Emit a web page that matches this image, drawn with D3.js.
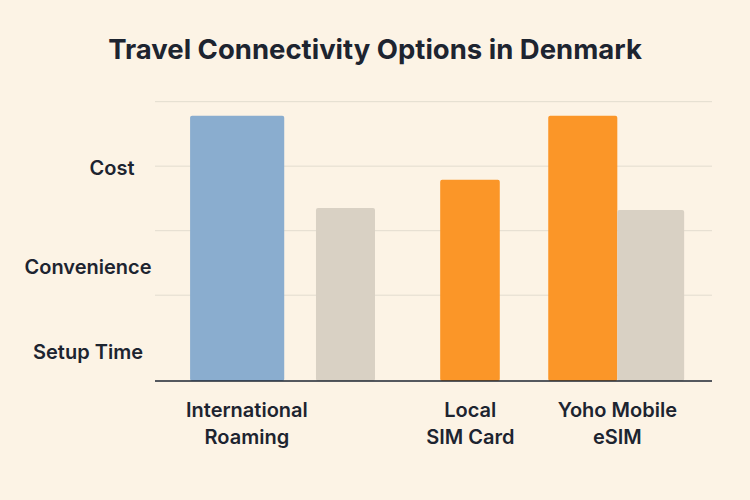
<!DOCTYPE html>
<html><head><meta charset="utf-8">
<script src="https://cdn.jsdelivr.net/npm/d3@7"></script>
<style>body{margin:0;background:#fcf3e5;font-family:Inter,"Noto Sans",sans-serif}</style>
</head><body><svg width="750" height="500"></svg>
<script>
// Data
const groups = ['International Roaming', 'Local SIM Card', 'Yoho Mobile eSIM'];
const groupLines = [['International', 'Roaming'], ['Local', 'SIM Card'], ['Yoho Mobile', 'eSIM']];
const groupCenters = [1.65, 5.66, 8.3];
const barStart = [0.63, 2.89, 5.12, 7.06, 8.3];
const barEnd = [2.32, 3.95, 6.19, 8.3, 9.5];
const barValue = [4.11, 2.68, 3.12, 4.11, 2.65];
const barColor = ['#8aadcf', '#d9d1c4', '#fb9628', '#fb9628', '#d9d1c4'];
const yLabels = ['Cost', 'Convenience', 'Setup Time'];
const yLabelPos = [3.3, 1.77, 0.45];
const gridTicks = [1.33, 2.33, 3.33, 4.33];

const svg = d3.select('svg');
const x = d3.scaleLinear().domain([0, 10]).range([155, 712]);
const y = d3.scaleLinear().domain([0, 4.34]).range([381, 101]);

svg.append('text').attr('x', 375).attr('y', 59).attr('text-anchor', 'middle')
    .attr('font-size', 27.5).attr('font-weight', 700).attr('fill', '#1d2430')
    .text('Travel Connectivity Options in Denmark');

svg.selectAll('.grid').data(gridTicks).join('line')
    .attr('x1', x(0)).attr('x2', x(10))
    .attr('y1', d => y(d)).attr('y2', d => y(d))
    .attr('stroke', '#e2dccf').attr('stroke-width', 1);

svg.selectAll('.bar').data(barValue).join('rect')
    .attr('x', (d, i) => x(barStart[i]))
    .attr('width', (d, i) => x(barEnd[i]) - x(barStart[i]))
    .attr('y', d => y(d)).attr('height', d => y(0) - y(d))
    .attr('rx', 2).attr('fill', (d, i) => barColor[i]);

svg.append('line').attr('x1', x(0)).attr('x2', x(10)).attr('y1', y(0)).attr('y2', y(0))
    .attr('stroke', '#1d2430').attr('stroke-width', 1.5);

svg.selectAll('.ylab').data(yLabels).join('text')
    .attr('x', (d, i) => i === 0 ? 112 : 88).attr('y', (d, i) => y(yLabelPos[i]) + 7)
    .attr('text-anchor', 'middle').attr('font-size', 20).attr('font-weight', 600).attr('fill', '#1d2430')
    .text(d => d);

groups.forEach((g, i) => {
    const t = svg.append('text').attr('text-anchor', 'middle').attr('font-size', 20)
        .attr('font-weight', 600).attr('fill', '#1d2430');
    groupLines[i].forEach((line, j) => {
        t.append('tspan').attr('x', x(groupCenters[i])).attr('y', 417 + j * 27).text(line);
    });
});
</script></body></html>
